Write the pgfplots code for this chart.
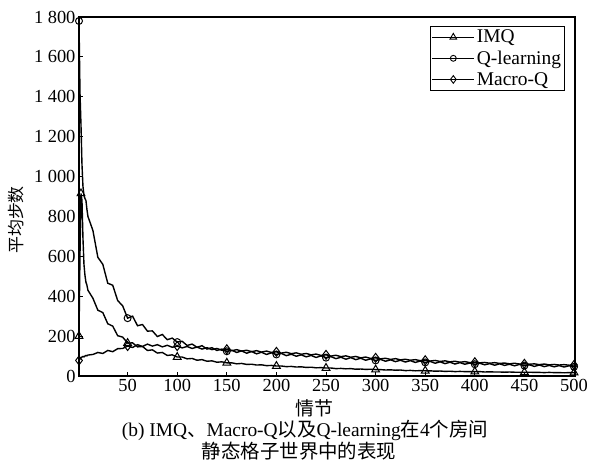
\documentclass[border=0pt]{standalone}
\usepackage{pgfplots}
\pgfplotsset{compat=1.18}
\usepackage{pgfplotstable}
\usepackage{fontspec}
\setmainfont{Liberation Serif}
\newfontfamily\cjk{Noto Sans CJK SC}

% average steps per episode for the three learners
\pgfplotstableread{
ep  imq   ql    mq
1   200   1780  78
2   610   1420  85
3   915   1260  92
4   880   1060  95
5   690   950   98
6   560   905   96
7   505   890   100
8   470   880   103
9   455   835   101
10  430   800   105
15  390   730   108
20  330   595   118
25  318   560   113
30  262   465   128
35  250   455   122
40  202   378   137
45  195   352   138
50  165   290   150
55  166   300   143
60  146   252   157
65  148   258   148
70  128   225   160
75  131   226   150
80  115   198   157
85  118   208   146
90  103   182   154
95  106   190   144
100 95    170   150
105 95    174   141
110 86    153   148
115 88    160   138
120 79    144   145
125 82    152   135
130 74    135   142
135 76    142   132
140 69    128   138
145 71    135   129
150 66    124   134
155 66    129   127
160 61    118   132
165 63    126   125
170 58    114   129
175 59    123   122
180 55    111   127
185 56    119   120
190 52    108   125
195 53    116   118
200 50    108   121
205 50    113   115
210 47    102   119
215 48    109   112
220 45    99    116
225 46    106   109
230 43    96    113
235 44    103   106
240 41    93    110
245 42    101   103
250 40    92    106
255 40    97    100
260 37    87    104
265 38    94    97
270 36    84    101
275 37    92    94
280 34    82    98
285 35    89    91
290 33    79    95
295 34    86    88
300 32    78    91
305 32    83    86
310 30    74    89
315 31    81    83
320 29    72    87
325 30    79    81
330 27    70    84
335 28    77    79
340 26    68    82
345 27    75    77
350 26    68    79
355 26    73    75
360 24    64    78
365 25    71    73
370 23    62    76
375 24    69    71
380 22    60    74
385 23    67    69
390 22    59    72
395 22    65    67
400 22    59    69
405 22    64    66
410 20    56    68
415 21    62    64
420 20    54    67
425 20    61    63
430 19    53    65
435 20    59    61
440 19    51    64
445 19    58    60
450 19    52    61
455 19    56    59
460 18    48    61
465 18    55    57
470 17    47    60
475 18    53    56
480 17    46    58
485 17    52    55
490 16    45    57
495 17    51    54
500 17    46    55
}\steps

\begin{document}
\begin{tikzpicture}[x=1bp,y=1bp]
\useasboundingbox (0,0) rectangle (592,466);
\begin{axis}[
  at={(79bp,90bp)}, anchor=south west,
  scale only axis, width=496bp, height=359bp,
  xmin=1, xmax=501, ymin=0, ymax=1800,
  xtick={50,100,...,500}, ytick={0,200,...,1800},
  tick pos=left, tick align=inside, major tick length=4bp,
  axis line style={line width=1.2pt},
  tick style={line width=0.8pt, black},
  ticklabel style={font=\fontsize{18.5}{20}\selectfont},
  /pgf/number format/1000 sep={\ },
  /pgf/number format/assume math mode=true,
  legend style={at={(0.98,0.975)}, anchor=north east, draw=black,
    line width=1.1pt, font=\fontsize{19.5}{22}\selectfont,
    inner sep=1.5pt, row sep=2.5pt, cells={anchor=west}},
  legend image code/.code={\draw[#1, line width=1.2pt, mark indices={2}, mark options={line width=0.9pt, scale=0.85}] plot coordinates {(0bp,0bp) (21bp,0bp) (42bp,0bp)};},
  every axis plot/.append style={black, line width=1.4pt,
    mark options={solid, fill=white, line width=1pt}},
]
\addplot[mark=triangle, mark size=4.5pt, mark indices={1,3,18,28,38,48,58,68,78,88,98,108}]
  table[x=ep, y=imq] {\steps};
\addlegendentry{IMQ}
\addplot[mark=o, mark size=3.5pt, mark indices={1,18,28,38,48,58,68,78,88,98,108}]
  table[x=ep, y=ql] {\steps};
\addlegendentry{Q-learning}
\addplot[mark=diamond, mark size=4.5pt, mark indices={1,18,28,38,48,58,68,78,88,98,108}]
  table[x=ep, y=mq] {\steps};
\addlegendentry{Macro-Q}
\end{axis}
\node[rotate=90, font=\cjk\fontsize{17}{20}\selectfont] at (16,246) {平均步数};
\node[font=\cjk\fontsize{19}{22}\selectfont] at (314,58) {情节};
\node[font=\fontsize{19.5}{22}\selectfont] at (305,36) {(b) IMQ{\cjk 、}Macro-Q{\cjk 以及}Q-learning{\cjk 在}4{\cjk 个房间}};
\node[font=\cjk\fontsize{19.5}{22}\selectfont] at (299,15) {静态格子世界中的表现};
\end{tikzpicture}
\end{document}
